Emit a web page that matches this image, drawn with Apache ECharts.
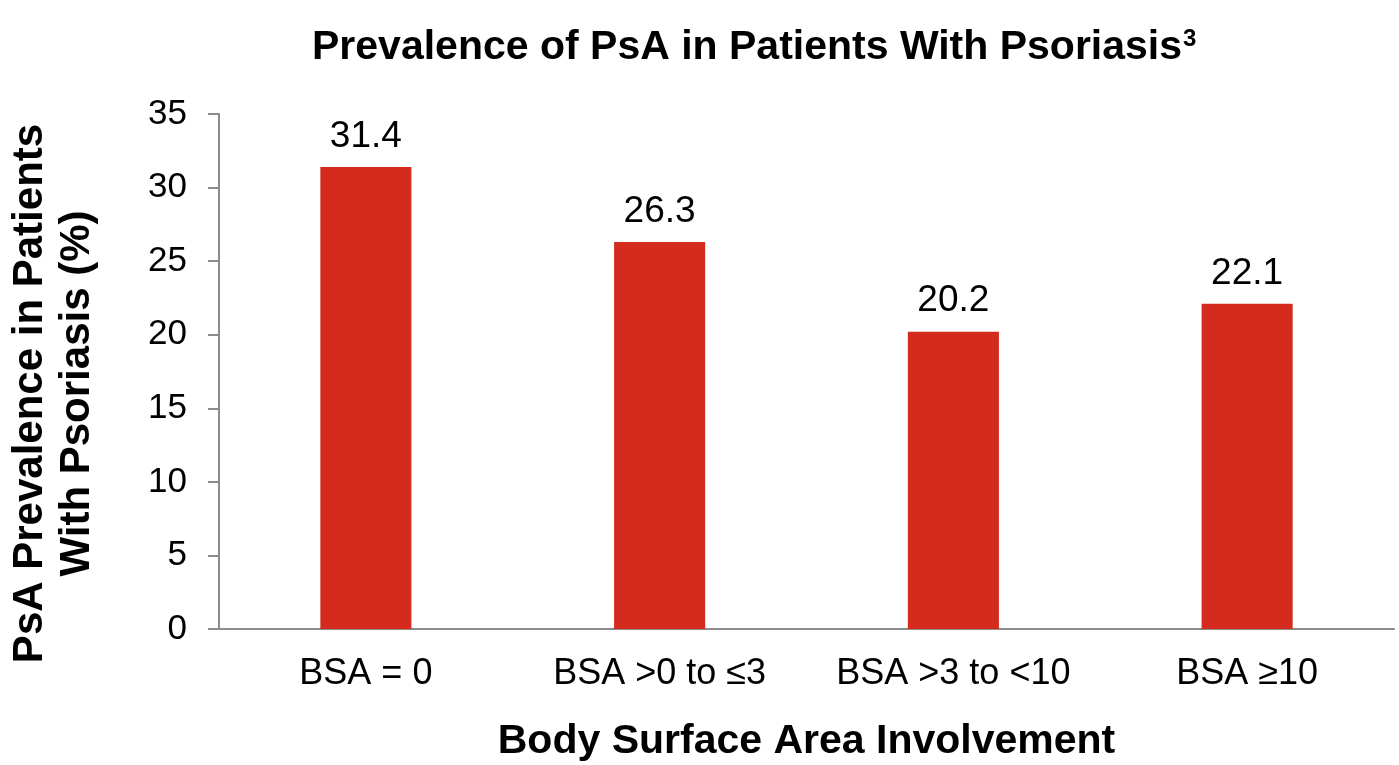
<!DOCTYPE html>
<html>
<head>
<meta charset="utf-8">
<script src="https://cdn.jsdelivr.net/npm/echarts@6/dist/echarts.min.js"></script>
<style>
  html, body { margin: 0; padding: 0; background: #fff; }
  #chart { width: 1399px; height: 765px; }
</style>
</head>
<body>
<div id="chart"></div>
<script>
var categories = ['BSA = 0', 'BSA >0 to \u22643', 'BSA >3 to <10', 'BSA \u226510'];
var prevalence = [31.4, 26.3, 20.2, 22.1];

var chart = echarts.init(document.getElementById('chart'));
var font = '"Liberation Sans", Arial, sans-serif';

chart.setOption({
    animation: false,
    textStyle: { fontFamily: font },
    title: {
        text: '{t|Prevalence of PsA in Patients With Psoriasis}{s|3}',
        left: 307,
        top: 22,
        textStyle: {
            rich: {
                t: { fontSize: 41, fontWeight: 'bold', color: '#000', fontFamily: font },
                s: { fontSize: 24, fontWeight: 'bold', color: '#000', fontFamily: font, verticalAlign: 'top', padding: [0, 0, 18, 1] }
            }
        }
    },
    grid: { left: 219, right: 5, top: 114, bottom: 136, outerBoundsMode: 'none' },
    xAxis: {
        type: 'category',
        data: categories,
        name: 'Body Surface Area Involvement',
        nameLocation: 'middle',
        nameGap: 92,
        nameTextStyle: { fontSize: 41, fontWeight: 'bold', color: '#000' },
        axisLine: { lineStyle: { color: '#8c8c8c', width: 2 } },
        axisTick: { show: false },
        axisLabel: { fontSize: 36, color: '#000', margin: 27, interval: 0 }
    },
    yAxis: {
        type: 'value',
        min: 0,
        max: 35,
        interval: 5,
        name: 'PsA Prevalence in Patients\nWith Psoriasis (%)',
        nameLocation: 'middle',
        nameGap: 118,
        nameTextStyle: { fontSize: 42, fontWeight: 'bold', color: '#000', lineHeight: 47, padding: [0, 44, 0, 0] },
        axisLine: { show: true, lineStyle: { color: '#8c8c8c', width: 2 } },
        axisTick: { show: true, length: 11, lineStyle: { color: '#8c8c8c', width: 2 } },
        splitLine: { show: false },
        axisLabel: { fontSize: 35, color: '#000', margin: 32 }
    },
    series: [{
        type: 'bar',
        data: prevalence,
        barWidth: '31%',
        itemStyle: { color: '#d52b1e' },
        label: { show: true, position: 'top', fontSize: 37, color: '#000', distance: 12 }
    }]
});
</script>
</body>
</html>
